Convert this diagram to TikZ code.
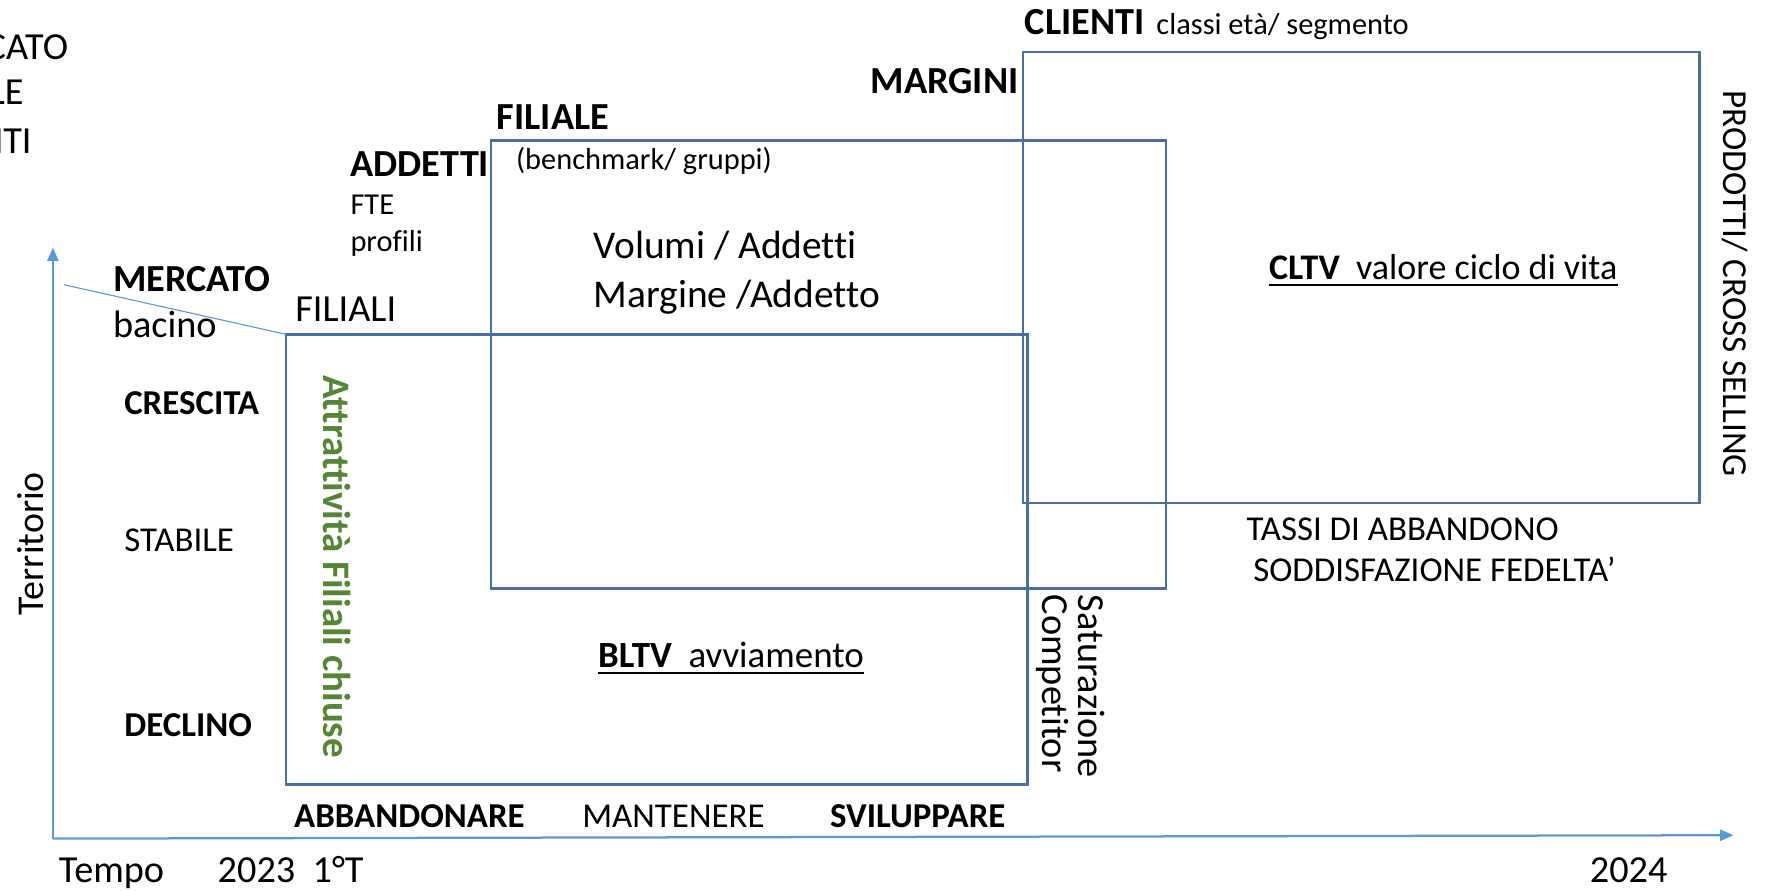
\documentclass[tikz,border=0pt]{standalone}
\usepackage{fontspec}
\setmainfont{Carlito}[Ligatures=NoCommon]
\usetikzlibrary{arrows.meta}
\definecolor{boxblue}{RGB}{71,114,160}
\definecolor{axisblue}{RGB}{91,155,213}
\definecolor{txtgreen}{RGB}{84,134,53}
\tikzset{
  box/.style={draw=boxblue, line width=1.1pt},
  axisline/.style={draw=axisblue, line width=1pt, -{Triangle[length=6pt,width=5pt]}},
  thinline/.style={draw=axisblue, line width=0.5pt},
  ulline/.style={draw=black, line width=0.8pt},
  lbl/.style={inner sep=0pt, anchor=base west, font=\fontsize{17}{20}\selectfont},
  lblb/.style={inner sep=0pt, anchor=base west, font=\fontsize{17}{20}\selectfont\bfseries},
  sml/.style={inner sep=0pt, anchor=base west, font=\fontsize{13.5}{16}\selectfont},
  mid/.style={inner sep=0pt, anchor=base west, font=\fontsize{15.5}{18}\selectfont},
  midb/.style={inner sep=0pt, anchor=base west, font=\fontsize{15.5}{18}\selectfont\bfseries},
}
\begin{document}
\begin{tikzpicture}[x=0.5pt,y=-0.5pt]
\useasboundingbox (0,0) rectangle (1568,791);

% labels cut off at the left edge, as in the reference
\node[lbl] (m1) at (-77,53) {MERCATO};
\node[lbl] (m2) at (-77,93) {FILIALE};
\node[lbl] (m3) at (-77,136) {CLIENTI};

% axes
\coordinate (origin) at (47,745);
\coordinate (ytip) at (47,220);
\coordinate (xtip) at (1540,742);
\draw[axisline] (origin) -- (ytip);
\draw[axisline] (origin) -- (xtip);

% boxes
\coordinate (A-nw) at (254,297);
\coordinate (A-se) at (913,697);
\coordinate (B-nw) at (436,125);
\coordinate (B-se) at (1036,523);
\coordinate (C-nw) at (909,46);
\coordinate (C-se) at (1510,447);
\draw[box] (A-nw) rectangle (A-se);
\draw[box] (B-nw) rectangle (B-se);
\draw[box] (C-nw) rectangle (C-se);

% diagonal line
\coordinate (diag0) at (57,253);
\draw[thinline] (diag0) -- (A-nw);

% top labels
\node[lblb] (clienti) at (910,31) {CLIENTI};
\node[sml] (classi) at (1027,31) {classi età/ segmento};
\node[lblb] (margini) at (773,83) {MARGINI};
\node[lblb] (filiale) at (441,115) {FILIALE};
\node[sml] (bench) at (458,151) {(benchmark/ gruppi)};
\node[lblb] (addetti) at (311,157) {ADDETTI};
\node[sml] (fte) at (311,191) {FTE};
\node[sml] (profili) at (311,223) {profili};
\node[inner sep=0pt, anchor=base west, font=\fontsize{17.5}{20}\selectfont] (vol) at (527,230) {Volumi / Addetti};
\node[inner sep=0pt, anchor=base west, font=\fontsize{17.5}{20}\selectfont] (marg) at (527,273) {Margine /Addetto};

% CLTV
\node[inner sep=0pt, anchor=base west, font=\fontsize{16}{19}\selectfont] (cltv) at (1127,248) {\textbf{CLTV}\ \ valore ciclo di vita};
\draw[ulline] ([yshift=-2.6pt]cltv.base west) -- ([yshift=-2.6pt]cltv.base east);

% left labels
\node[lblb] (mercato) at (100,259) {MERCATO};
\node[lbl] (bacino) at (100,300) {bacino};
\node[lbl] (filiali) at (262,286) {FILIALI};
\node[midb] (crescita) at (110,368) {CRESCITA};
\node[mid] (stabile) at (110,490) {STABILE};
\node[midb] (declino) at (110,654) {DECLINO};
\node[inner sep=0pt, rotate=90, font=\fontsize{16.8}{20}\selectfont] (territorio) at (27,483) {Territorio};

% green rotated
\node[inner sep=0pt, rotate=-90, anchor=west, text=txtgreen, font=\fontsize{17.3}{20}\selectfont\bfseries] (attr) at (299,333) {Attrattività Filiali chiuse};

% BLTV
\node[inner sep=0pt, anchor=base west, font=\fontsize{16.4}{19}\selectfont] (bltv) at (531,593) {\textbf{BLTV}\ \ avviamento};
\draw[ulline] ([yshift=-2.6pt]bltv.base west) -- ([yshift=-2.6pt]bltv.base east);

% saturazione / competitor
\node[inner sep=0pt, rotate=-90, anchor=west, font=\fontsize{17}{20}\selectfont] (satur) at (970,528) {Saturazione};
\node[inner sep=0pt, rotate=-90, anchor=west, font=\fontsize{17}{20}\selectfont] (compet) at (935,528) {Competitor};

% right side
\node[inner sep=0pt, rotate=-90, anchor=west, font=\fontsize{15.6}{19}\selectfont] (prod) at (1541,80) {PRODOTTI/ CROSS SELLING};
\node[mid] (tassi) at (1107,480) {TASSI DI ABBANDONO};
\node[mid] (sodd) at (1113,517) {SODDISFAZIONE FEDELTA’};

% bottom labels
\node[midb] (abb) at (261,735) {ABBANDONARE};
\node[mid] (mant) at (517,735) {MANTENERE};
\node[midb] (svil) at (737,735) {SVILUPPARE};
\node[lbl] (tempo) at (52,784) {Tempo};
\node[lbl] (y2023) at (193,784) {2023\ \ 1°T};
\node[lbl] (y2024) at (1412,784) {2024};
\end{tikzpicture}
\end{document}
